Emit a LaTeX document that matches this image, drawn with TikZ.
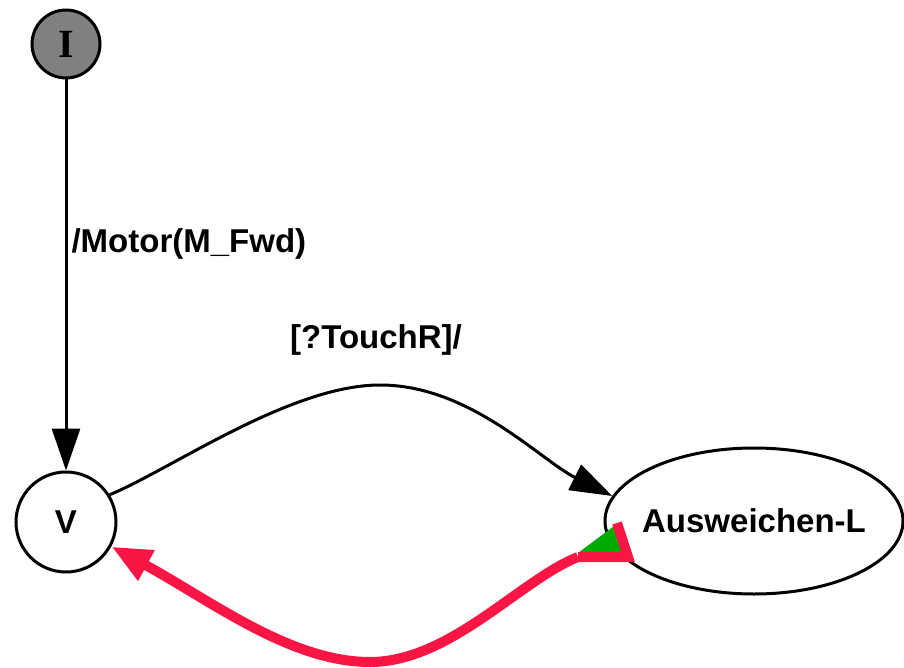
\documentclass[tikz,border=0pt]{standalone}
\usepackage{fontspec}
\setmainfont{Liberation Sans}
\newfontfamily\seriffont{Liberation Serif}
\usetikzlibrary{shapes,arrows.meta}
\definecolor{hotred}{RGB}{250,22,68}
\definecolor{tailgreen}{RGB}{0,170,0}
\tikzset{
state/.style={
	  draw,line width=3pt,inner sep=0pt,
	    font=\fontsize{33}{40}\selectfont\bfseries},
trans/.style={line width=3pt,-{Triangle[length=42pt,width=28pt]}},
back/.style={hotred,line width=10pt,-{Triangle[length=40pt,width=32pt]}},
lbl/.style={font=\fontsize{33}{40}\selectfont\bfseries}
}

\begin{document}
\begin{tikzpicture}[x=1pt,y=-1pt]
	\useasboundingbox (0,0) rectangle (904,668);
	\node[state, circle, fill=black!50, minimum size=68pt,
		font=\fontsize{40}{44}\selectfont\seriffont\bfseries] (I) at (66,44) {I};
	\node[state, circle, minimum size=100pt] (V) at (66,522) {V};
	\node[state, ellipse, inner xsep=-12pt, minimum width=298pt, minimum height=146pt] (A) at (754,521) {Ausweichen-L};
	\coordinate (tail) at (578,557);
	% transitions
	\draw[trans] (I) -- (V);
	\node[lbl, anchor=base west] (motor) at (68,252) {/Motor(M\_Fwd)};
	\draw[trans] (V.32) .. controls (170,470) and (290,385) .. (380,385)
		.. controls (470,385) and (540,460) .. (A.170);
	\node[lbl] (touch) at (376,340) {[?TouchR]/};
	\draw[back] (tail) .. controls (520,580) and (450,662) .. (370,662)
		.. controls (290,662) and (210,600) .. (V);
	\fill[tailgreen] (578,553) -- (614,526) -- (623,553) -- cycle;
	\draw[hotred, line width=10pt, line join=miter] (tail) -- (628,557) -- (617,523);
\end{tikzpicture}
\end{document}
